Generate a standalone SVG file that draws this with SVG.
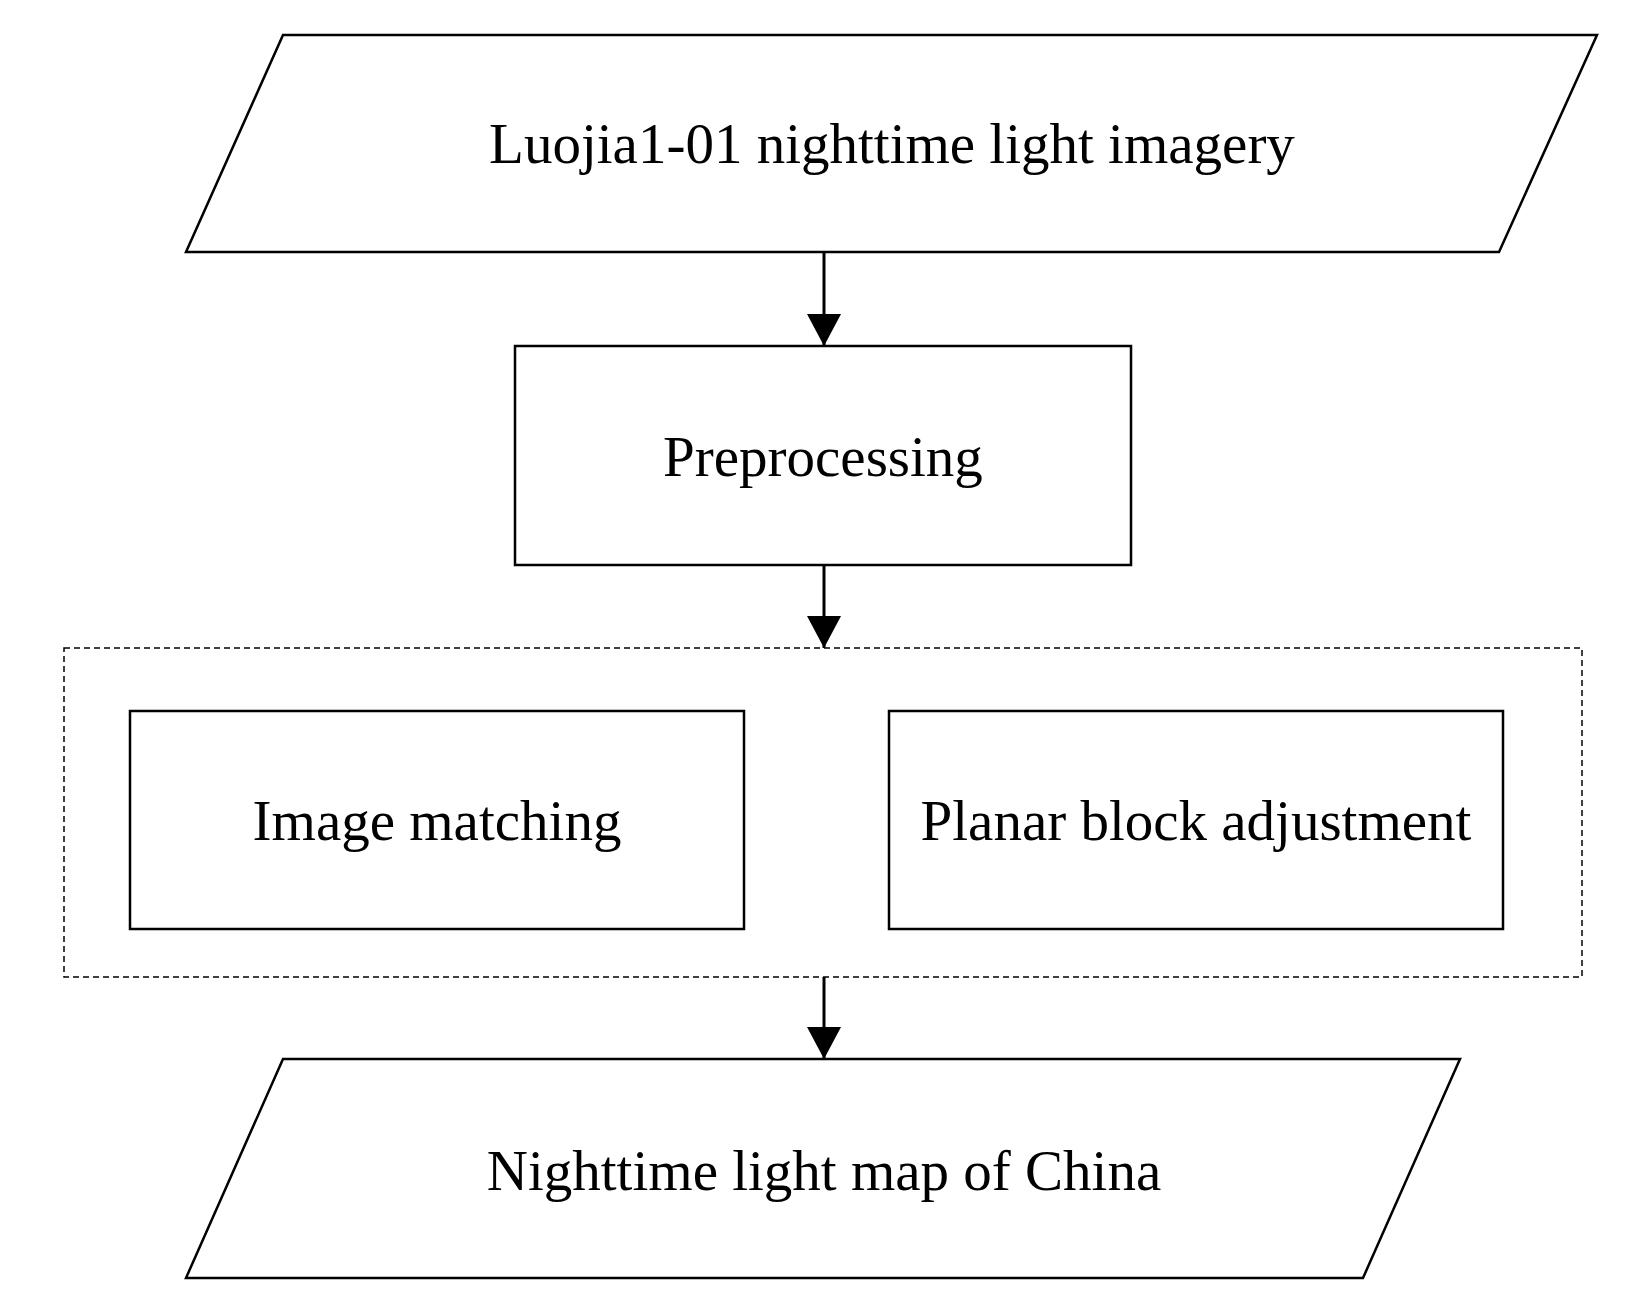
<svg xmlns="http://www.w3.org/2000/svg" width="1638" height="1306" viewBox="0 0 1638 1306">
<style>
.s{fill:#fff;stroke:#000;stroke-width:2.5}
.t{font-family:"Liberation Serif",serif;font-size:57px;text-anchor:middle;fill:#000}
.c{stroke:#000;stroke-width:3;fill:none}
</style>
<defs><marker id="a" markerUnits="userSpaceOnUse" markerWidth="34" markerHeight="50" refX="32" refY="17" orient="auto" viewBox="0 0 34 50"><path d="M0,0 L32,17 L0,34 Z" fill="#000"/></marker></defs>
<rect width="1638" height="1306" fill="#fff"/>
<g id="group"><rect x="64" y="648" width="1518" height="329" fill="none" stroke="#000" stroke-width="1.5" stroke-dasharray="6,4"/></g>
<g id="n1"><polygon class="s" points="186,252 283,35 1597,35 1499,252"/><text class="t" x="892" y="163">Luojia1-01 nighttime light imagery</text></g>
<g id="n2"><rect class="s" x="515" y="346" width="616" height="219"/><text class="t" x="823" y="476">Preprocessing</text></g>
<g id="n3"><rect class="s" x="130" y="711" width="614" height="218"/><text class="t" x="437" y="840">Image matching</text></g>
<g id="n4"><rect class="s" x="889" y="711" width="614" height="218"/><text class="t" x="1196" y="840">Planar block adjustment</text></g>
<g id="n5"><polygon class="s" points="186,1278 283,1059 1460,1059 1363,1278"/><text class="t" x="824" y="1190">Nighttime light map of China</text></g>
<g id="connectors">
<line class="c" x1="824" y1="252" x2="824" y2="346" marker-end="url(#a)"/>
<line class="c" x1="824" y1="565" x2="824" y2="648" marker-end="url(#a)"/>
<line class="c" x1="824" y1="977" x2="824" y2="1059" marker-end="url(#a)"/>
</g>
</svg>
